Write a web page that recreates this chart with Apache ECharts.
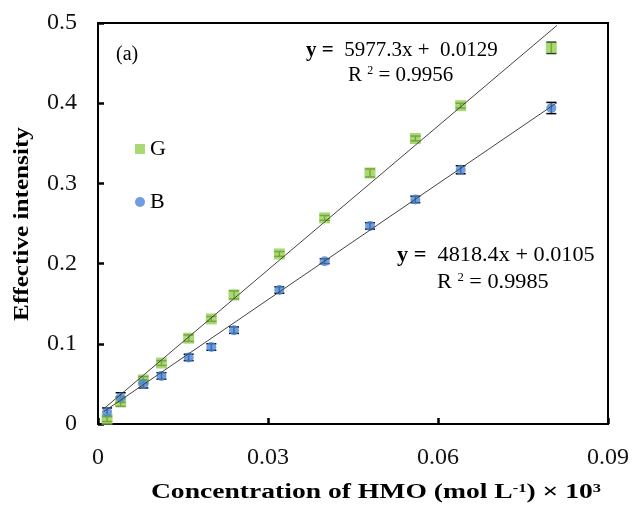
<!DOCTYPE html>
<html>
<head>
<meta charset="utf-8">
<script src="https://cdn.jsdelivr.net/npm/echarts@6/dist/echarts.min.js"></script>
<style>html,body{margin:0;padding:0;background:#fff;}#chart{width:632px;height:510px;}</style>
</head>
<body>
<div id="chart"></div>
<script>
// ---- data ----
var concentration = [0.0016, 0.004, 0.008, 0.0112, 0.016, 0.02, 0.024, 0.032, 0.04, 0.048, 0.056, 0.064, 0.08];
var gValues = [0.006, 0.028, 0.055, 0.076, 0.107, 0.131, 0.161, 0.212, 0.257, 0.313, 0.356, 0.397, 0.469];
var gErrors = [0.003, 0.006, 0.004, 0.003, 0.004, 0.003, 0.005, 0.003, 0.003, 0.005, 0.003, 0.003, 0.007];
var bValues = [0.015, 0.033, 0.050, 0.060, 0.083, 0.096, 0.117, 0.167, 0.203, 0.247, 0.280, 0.317, 0.394];
var bErrors = [0.005, 0.006, 0.005, 0.004, 0.004, 0.004, 0.004, 0.004, 0.003, 0.004, 0.004, 0.005, 0.007];
var gFit = {slope: 5.9773, intercept: 0.0129, label: '5977.3x +  0.0129', r2: '0.9956'};
var bFit = {slope: 4.8184, intercept: 0.0105, label: '4818.4x + 0.0105', r2: '0.9985'};
var fitRange = [0.001, 0.081];
var xTicks = {min: 0, max: 0.09, interval: 0.03};
var yTicks = {min: 0, max: 0.5, interval: 0.1};

var SERIF = '"Liberation Serif", "Times New Roman", serif';
var GREEN = '#92D050';
var BLUE = '#4A86D8';

function pairs(xs, ys) { return xs.map(function (x, i) { return [x, ys[i]]; }); }
function errData(xs, ys, es) { return xs.map(function (x, i) { return [x, ys[i] - es[i], ys[i] + es[i]]; }); }
function fitLine(f) { return fitRange.map(function (x) { return [x, f.slope * x + f.intercept]; }); }

function errRender(params, api) {
  var x = api.value(0);
  var lo = api.coord([x, api.value(1)]);
  var hi = api.coord([x, api.value(2)]);
  var hw = 5;
  var st = {stroke: '#000', lineWidth: 1.5};
  return {
    type: 'group',
    children: [
      {type: 'line', shape: {x1: lo[0], y1: lo[1], x2: hi[0], y2: hi[1]}, style: st},
      {type: 'line', shape: {x1: lo[0] - hw, y1: lo[1], x2: lo[0] + hw, y2: lo[1]}, style: st},
      {type: 'line', shape: {x1: hi[0] - hw, y1: hi[1], x2: hi[0] + hw, y2: hi[1]}, style: st}
    ]
  };
}

var chart = echarts.init(document.getElementById('chart'), null, {renderer: 'canvas'});
var option = {
  backgroundColor: '#fff',
  animation: false,
  grid: {left: 98, right: 23, top: 23, bottom: 86, show: true, borderColor: '#000', borderWidth: 2, backgroundColor: 'transparent'},
  legend: {
    orient: 'vertical', left: 130, top: 133, itemGap: 31, itemWidth: 10, itemHeight: 10,
    data: [{name: 'G', icon: 'rect'}, {name: 'B', icon: 'circle'}],
    textStyle: {fontFamily: SERIF, fontSize: 22, color: '#000'},
    selectedMode: false
  },
  xAxis: {
    type: 'value', min: xTicks.min, max: xTicks.max, interval: xTicks.interval,
    axisLine: {lineStyle: {color: '#000', width: 2}},
    axisTick: {inside: true, length: 6, lineStyle: {color: '#000', width: 2.5}},
    axisLabel: {fontFamily: SERIF, fontSize: 24, color: '#111', margin: 22},
    splitLine: {show: false}
  },
  yAxis: {
    type: 'value', min: yTicks.min, max: yTicks.max, interval: yTicks.interval,
    axisLine: {lineStyle: {color: '#000', width: 2}},
    axisTick: {inside: true, length: 6, lineStyle: {color: '#000', width: 2.5}},
    axisLabel: {fontFamily: SERIF, fontSize: 24, color: '#111', margin: 21},
    splitLine: {show: false}
  },
  series: [
    {name: 'G err', type: 'custom', renderItem: errRender, data: errData(concentration, gValues, gErrors), z: 1, silent: true},
    {name: 'B err', type: 'custom', renderItem: errRender, data: errData(concentration, bValues, bErrors), z: 1, silent: true},
    {name: 'G', type: 'scatter', symbol: 'rect', symbolSize: 11, itemStyle: {color: GREEN}, data: pairs(concentration, gValues), z: 2},
    {name: 'B', type: 'scatter', symbol: 'circle', symbolSize: 10, itemStyle: {color: BLUE}, data: pairs(concentration, bValues), z: 2},
    {name: 'G fit', type: 'line', data: fitLine(gFit), showSymbol: false, lineStyle: {color: '#444', width: 1}, z: 4, silent: true},
    {name: 'B fit', type: 'line', data: fitLine(bFit), showSymbol: false, lineStyle: {color: '#444', width: 1}, z: 4, silent: true}
  ],
  graphic: [
    {type: 'text', left: 116, top: 45, style: {text: '(a)', font: '20px ' + SERIF, fill: '#000'}},
    {type: 'text', left: 306, top: 40, style: {
      text: '{b|y =}  ' + gFit.label, font: '21px ' + SERIF, fill: '#000',
      rich: {b: {fontFamily: SERIF, fontSize: 21, fontWeight: 'bold'}}}},
    {type: 'text', left: 348, top: 65, style: {
      text: 'R {s|2} = ' + gFit.r2, font: '21px ' + SERIF, fill: '#000',
      rich: {s: {fontFamily: SERIF, fontSize: 12, verticalAlign: 'top', lineHeight: 21}}}},
    {type: 'text', x: 397, y: 245, scaleX: 1.06, style: {
      text: '{b|y =}  ' + bFit.label, font: '21px ' + SERIF, fill: '#000',
      rich: {b: {fontFamily: SERIF, fontSize: 21, fontWeight: 'bold'}}}},
    {type: 'text', x: 437, y: 272, scaleX: 1.06, style: {
      text: 'R {s|2} = ' + bFit.r2, font: '21px ' + SERIF, fill: '#000',
      rich: {s: {fontFamily: SERIF, fontSize: 12, verticalAlign: 'top', lineHeight: 21}}}},
    {type: 'text', x: 23, y: 224, rotation: Math.PI / 2, scaleX: 1.26, style: {
      text: 'Effective intensity', font: 'bold 20px ' + SERIF, fill: '#000', align: 'center', verticalAlign: 'middle'}},
    {type: 'text', x: 376, y: 493, scaleX: 1.38, style: {
      text: 'Concentration of HMO (mol L{s|-1}) × 10{s|3}', font: 'bold 20px ' + SERIF, fill: '#000', align: 'center', verticalAlign: 'middle',
      rich: {s: {fontFamily: SERIF, fontSize: 12, fontWeight: 'bold', verticalAlign: 'top', lineHeight: 20}}}}
  ]
};
chart.setOption(option);
</script>
</body>
</html>
